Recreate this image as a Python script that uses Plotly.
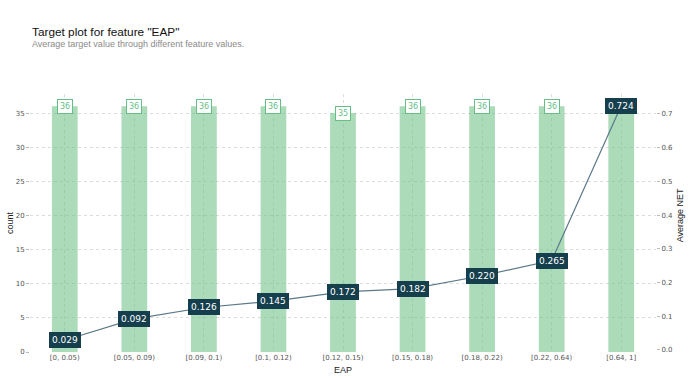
import plotly.graph_objects as go

categories = ["[0, 0.05)", "[0.05, 0.09)", "[0.09, 0.1)", "[0.1, 0.12)", "[0.12, 0.15)",
              "[0.15, 0.18)", "[0.18, 0.22)", "[0.22, 0.64)", "[0.64, 1]"]
counts = [36, 36, 36, 36, 35, 36, 36, 36, 36]
avg_net = [0.029, 0.092, 0.126, 0.145, 0.172, 0.182, 0.220, 0.265, 0.724]

xs = list(range(len(categories)))
BAR = "rgba(102,189,128,0.55)"
LINE = "#5b7889"
DARK = "#163f4d"
GREEN = "#66bf86"
FONT = "Liberation Sans, Arial, sans-serif"
TICKFONT = "DejaVu Sans, sans-serif"

fig = go.Figure()
fig.add_trace(go.Bar(x=xs, y=counts, width=0.37, marker=dict(color=BAR, line=dict(width=0)),
                     yaxis="y", showlegend=False, hoverinfo="skip"))
fig.add_trace(go.Scatter(x=xs, y=avg_net, mode="lines", line=dict(color=LINE, width=1.2),
                         yaxis="y2", showlegend=False, hoverinfo="skip"))

for x, c in zip(xs, counts):
    fig.add_annotation(x=x, y=c, xref="x", yref="y", text=str(c), showarrow=False,
                       font=dict(family="DejaVu Sans", size=8, color=GREEN),
                       bgcolor="white", bordercolor=GREEN, borderwidth=1, borderpad=2,
                       yanchor="middle")
for x, v in zip(xs, avg_net):
    fig.add_annotation(x=x, y=v, xref="x", yref="y2", text=f"{v:.3f}", showarrow=False,
                       font=dict(family="DejaVu Sans", size=9, color="white"),
                       bgcolor=DARK, bordercolor=DARK, borderwidth=1, borderpad=2,
                       yanchor="middle")

PW, PH = 626, 258
fig.add_annotation(x=0, y=1 + 62 / PH, xref="paper", yref="paper", xanchor="left", yanchor="middle",
                   text='Target plot for feature "EAP"', showarrow=False,
                   font=dict(family=FONT, size=11.8, color="#111111"))
fig.add_annotation(x=0, y=1 + 50 / PH, xref="paper", yref="paper", xanchor="left", yanchor="middle",
                   text="Average target value through different feature values.", showarrow=False,
                   font=dict(family=FONT, size=9, color="#8a8a8a"))
# axis titles
fig.add_annotation(x=-20 / PW, y=0.5, xref="paper", yref="paper", text="count", textangle=-90,
                   showarrow=False, xanchor="center", yanchor="middle",
                   font=dict(family=FONT, size=9, color="#222222"))
fig.add_annotation(x=1 + 24 / PW, y=0.53, xref="paper", yref="paper", text="Average NET", textangle=-90,
                   showarrow=False, xanchor="center", yanchor="middle",
                   font=dict(family=FONT, size=9, color="#222222"))
fig.add_annotation(x=0.5, y=-18 / PH, xref="paper", yref="paper", text="EAP",
                   showarrow=False, xanchor="center", yanchor="middle",
                   font=dict(family=FONT, size=9, color="#222222"))

fig.update_layout(
    width=689, height=378,
    margin=dict(l=30, r=33, t=94, b=26, autoexpand=False),
    paper_bgcolor="white", plot_bgcolor="white",
    font=dict(family=FONT, size=8, color="#424242"),
    xaxis=dict(tickmode="array", tickvals=xs, ticktext=categories, range=[-0.5, 8.5],
               showgrid=True, gridcolor="#dddddd", griddash="dot", gridwidth=1, automargin=False,
               zeroline=False, showline=False, ticks="", tickfont=dict(family=TICKFONT, size=7, color="#555555"),
               layer="above traces"),
    yaxis=dict(range=[0, 37.8], tickvals=[0, 5, 10, 15, 20, 25, 30, 35], automargin=False,
               showgrid=True, gridcolor="#dddddd", griddash="dot", gridwidth=1,
               zeroline=False, showline=False, ticks="outside", ticklen=3, tickcolor="#bbbbbb",
               tickfont=dict(family=TICKFONT, size=7, color="#555555")),
    yaxis2=dict(range=[-0.006, 0.759], overlaying="y", side="right", automargin=False,
                tickvals=[0, 0.1, 0.2, 0.3, 0.4, 0.5, 0.6, 0.7], tickformat=".1f",
                showgrid=False, zeroline=False, showline=False,
                ticks="outside", ticklen=3, tickcolor="#bbbbbb",
                tickfont=dict(family=TICKFONT, size=7, color="#555555")),
)

fig.write_html("out.html", config={"displayModeBar": False},
               post_script="document.body.style.margin='0';document.body.style.overflow='hidden';")
